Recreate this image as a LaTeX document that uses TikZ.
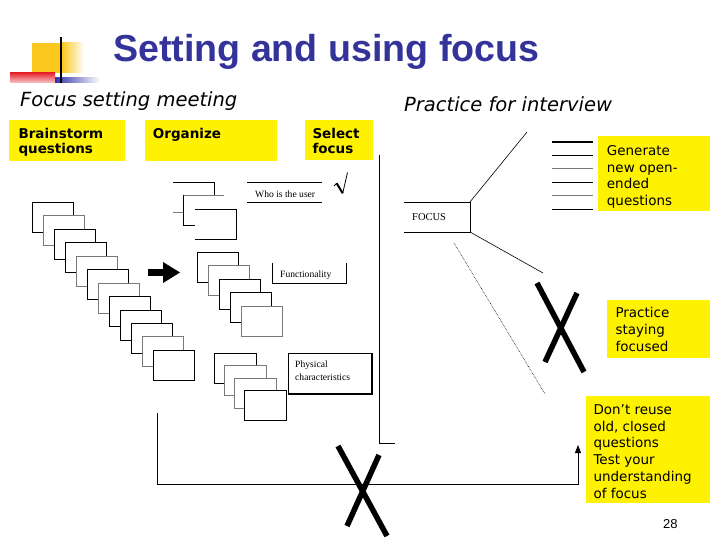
\documentclass[tikz,border=0pt]{standalone}
\usepackage{fontspec}
\usetikzlibrary{arrows.meta}
\newfontfamily\vfont{DejaVu Sans}
\newfontfamily\afont{Liberation Sans}
\newfontfamily\tmfont{Liberation Serif}
\definecolor{titleblue}{RGB}{51,51,153}
\definecolor{logoyellow}{RGB}{250,200,30}
\definecolor{logored}{RGB}{230,40,50}
\definecolor{logoblue}{RGB}{50,50,170}
\definecolor{cardgray}{RGB}{120,120,120}
\begin{document}
\begin{tikzpicture}[x=1pt,y=-1pt,
  ln/.style={line width=0.8pt},
  thinln/.style={line width=0.6pt},
  card/.style={fill=white, line width=0.8pt},
  ybox/.style={fill=yellow, draw=none, inner sep=0pt, anchor=north west},
  ytext/.style={anchor=north west, inner sep=0pt, align=left, font=\vfont\fontsize{13.5}{16.8}\selectfont},
  btext/.style={anchor=north west, inner sep=0pt, align=left, font=\vfont\bfseries\fontsize{13.5}{15.2}\selectfont},
  htext/.style={anchor=base west, inner sep=0pt, font=\vfont\itshape\fontsize{19.5}{22}\selectfont},
  serif/.style={anchor=base west, inner sep=0pt, align=left, font=\tmfont\fontsize{9.6}{13.4}\selectfont},
  bigx/.style={line width=5.5pt},
]
\useasboundingbox (0,0) rectangle (720,540);
\fill[white] (0,0) rectangle (720,540);

% logo
\fill[logoyellow] (32,43) rectangle (62,73);
\shade[left color=logoyellow, right color=white] (62,43) rectangle (84,73);
\shade[top color=logored, bottom color=logored!25] (10,73) rectangle (55,83);
\shade[left color=logoblue, right color=white] (55,78) rectangle (100,83);
\draw[line width=2pt] (61,37) -- (61,83);

% title and headers
\node[anchor=base west, inner sep=0pt, text=titleblue, font=\afont\bfseries\fontsize{37.6}{40}\selectfont] (title) at (113,62) {Setting and using focus};
\node[htext] (hleft) at (20,106.7) {Focus setting meeting};
\node[htext] (hright) at (404,111.7) {Practice for interview};

% yellow boxes
\node[ybox, minimum width=116pt, minimum height=41pt] (bbox) at (9,120) {};
\node[btext] (btxt) at (18.3,126.3) {\rule{0pt}{12pt}Brainstorm\\questions};
\node[ybox, minimum width=132.5pt, minimum height=41pt] (obox) at (144.3,120) {};
\node[btext] (otxt) at (152.7,126.3) {\rule{0pt}{12pt}Organize};
\node[ybox, minimum width=68pt, minimum height=40pt] (sbox) at (305,120) {};
\node[btext] (stxt) at (312.3,126.3) {\rule{0pt}{12pt}Select\\focus};
\node[ybox, minimum width=112pt, minimum height=75pt] (gbox) at (598,136) {};
\node[ytext] (gtxt) at (606.7,143) {\rule{0pt}{12pt}Generate\\new open-\\ended\\questions};
\node[ybox, minimum width=103pt, minimum height=58pt] (pbox) at (607,300) {};
\node[ytext] (ptxt) at (615.3,305.3) {\rule{0pt}{12pt}Practice\\staying\\focused};
\node[ybox, minimum width=124pt, minimum height=107pt] (dbox) at (586,396) {};
\node[ytext] (dtxt) at (593.3,402) {\rule{0pt}{12pt}Don’t reuse\\old, closed\\questions\\Test your\\understanding\\of focus};

% brainstorm cards
\foreach \k/\c in {0/black,1/cardgray,2/black,3/black,4/cardgray,5/black,6/cardgray,7/black,8/black,9/black,10/cardgray,11/black}
  \draw[card, draw=\c] ({32.3+11*\k},{202.3+13.45*\k}) rectangle ++(41,30);

% big arrow
\fill (148,269) rectangle (163,276);
\fill (163,262) -- (180,272.5) -- (163,283) -- cycle;

% organize group 1
\draw[ln] (173,182) -- (214,182) -- (214,195);
\draw[ln, cardgray] (173,212) -- (183,212);
\draw[ln, cardgray] (183,195) -- (224,195);
\draw[ln] (183,195) -- (183,225) -- (195,225);
\draw[ln] (195,209) -- (236,209) -- (236,239) -- (195,239);
% who is the user
\draw[ln] (247,182) -- (322,182);
\draw[ln] (247,202) -- (322,202);
\node[serif] (who) at (255,197) {Who is the user};
\draw[line width=0.8pt] (334,186) -- (336.7,183.3);
\draw[line width=2pt] (336.7,183.3) -- (342.7,193.3);
\draw[line width=0.8pt] (342.7,193.3) -- (347.5,172.5);

% organize group 2
\foreach \k/\c in {0/black,1/cardgray,2/black,3/black,4/cardgray}
  \draw[card, draw=\c] ({197+11*\k},{252+13.5*\k}) rectangle ++(41,30);
\draw[ln] (272,263) -- (272,283) -- (346,283) -- (346,263);
\node[serif] (func) at (280,277.3) {Functionality};

% organize group 3
\foreach \k/\c in {0/black,1/cardgray,2/cardgray,3/black}
  \draw[card, draw=\c] ({214+10*\k},{353+12.5*\k}) rectangle ++(42,30);
\draw[ln] (288,353) rectangle (372,394);
\draw[line width=1.6pt] (288,394) -- (372,394) -- (372,353);
\node[serif, anchor=north west] (phys) at (295,358.3) {\rule{0pt}{9pt}Physical\\characteristics};

% separator
\coordinate (sepTop) at (379,155);
\coordinate (sepBot) at (379,443);
\coordinate (sepEnd) at (395,443);
\draw[ln] (sepTop) -- (sepBot) -- (sepEnd);

% focus diagram
\coordinate (fTL) at (404,202);
\coordinate (fTR) at (470,202);
\coordinate (fBR) at (470,232);
\coordinate (fBL) at (404,232);
\draw[ln] (fTL) -- (fTR) -- (fBR) -- (fBL);
\node[anchor=base west, inner sep=0pt, font=\tmfont\fontsize{10.5}{12}\selectfont] (focus) at (412,220.7) {FOCUS};
\coordinate (spk1) at (527,132);
\coordinate (spk2) at (543,273);
\coordinate (dotA) at (454,243);
\coordinate (dotB) at (545,394);
\draw[thinln] (fTR) -- (spk1);
\draw[thinln] (fBR) -- (spk2);
\draw[line width=0.6pt, densely dotted] (dotA) -- (dotB);
\draw[line width=1.4pt] (552,142) -- (593,142);
\draw[ln] (552,155) -- (593,155);
\draw[ln, cardgray] (552,168) -- (593,168);
\draw[ln] (552,182) -- (593,182);
\draw[ln, cardgray] (552,195) -- (593,195);
\draw[ln] (552,209) -- (593,209);

% crosses
\draw[bigx] (537,283) -- (584,372);
\draw[bigx] (577,293) -- (545,362);
\draw[bigx] (338,446) -- (387,536);
\draw[bigx] (379,455) -- (347,526);

% feedback arrow
\coordinate (fbA) at (157,413);
\coordinate (fbB) at (157,484);
\coordinate (fbC) at (578,484);
\coordinate (fbD) at (578,445);
\draw[ln, -{Triangle[length=8pt,width=6pt]}] (fbA) -- (fbB) -- (fbC) -- (fbD);

% page number
\node[anchor=base west, inner sep=0pt, font=\afont\fontsize{13}{15}\selectfont] (pg) at (663,528) {28};
\end{tikzpicture}
\end{document}
